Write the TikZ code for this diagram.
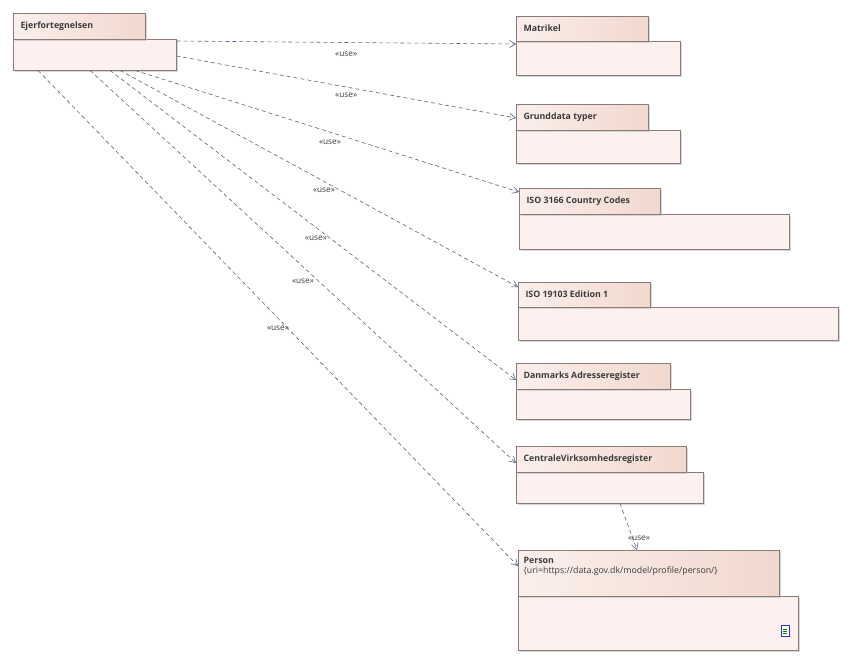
\documentclass[tikz,border=0pt]{standalone}
\usepackage{fontspec}
\setmainfont{Open Sans}
\usetikzlibrary{arrows.meta,calc,shadows}
\definecolor{bd}{HTML}{8A7A78}
\definecolor{tabL}{HTML}{FBEFEB}
\definecolor{tabR}{HTML}{F1D8CF}
\definecolor{bodyc}{HTML}{FCF1EE}
\definecolor{ln}{HTML}{5A6480}
\definecolor{txt}{HTML}{3C3C3C}
\tikzset{
  x=1pt,y=-1pt,
  shad/.style={drop shadow={shadow xshift=2pt,shadow yshift=-2pt,fill=black!25,opacity=.6}},
  tab/.style={draw=bd,shad,left color=tabL,right color=tabR,anchor=north west,inner sep=0pt,
    text=txt,align=left},
  body/.style={draw=bd,shad,fill=bodyc,anchor=north west,inner sep=0pt},
  lbl/.style={anchor=west,text=txt,font=\fontsize{8.8}{10.5}\selectfont\bfseries,align=left},
  use/.style={draw=ln,dash pattern=on 4pt off 3pt,-{Straight Barb[length=6pt,width=7pt]},line width=.6pt},
  ul/.style={text=txt,font=\fontsize{8.3}{9}\selectfont,inner sep=1pt}
}
% name, x1,y1, tab x2,y2, body x2,y2, label
\newcommand\mypkg[8]{%
  \node[body,minimum width={#6-#2},minimum height={#7-#5}] (#1b) at (#2,#5) {};
  \node[tab,minimum width={#4-#2},minimum height={#5-#3}] (#1) at (#2,#3) {};
  \node[lbl] (#1t) at (#2+4,{(#3+#5)/2}) {#8};
}
\begin{document}
\begin{tikzpicture}
\useasboundingbox (0,0) rectangle (850,662);
\fill[white] (0,0) rectangle (850,662);
\mypkg{ej}{13}{13}{145}{39}{176}{70}{Ejerfortegnelsen}
\mypkg{ma}{516}{16}{648}{41}{680}{75}{Matrikel}
\mypkg{gr}{516}{104}{648}{130}{680}{163}{Grunddata typer}
\mypkg{is}{519}{188}{660}{214}{789}{249}{ISO 3166 Country Codes}
\mypkg{io}{518}{282}{650}{307}{838}{340}{ISO 19103 Edition 1}
\mypkg{da}{516}{363}{670}{389}{690}{419}{Danmarks Adresseregister}
\mypkg{ce}{516}{446}{686}{472}{703}{503}{CentraleVirksomhedsregister}
\node[body,minimum width=280,minimum height=54] (peb) at (518,596) {};
\node[tab,minimum width=261,minimum height=46] (pe) at (518,550) {};
\node[lbl,anchor=north west] (pet) at (520,554) {Person\\[-1pt]\mdseries{\{uri=https://data.gov.dk/model/profile/person/\}}};
% document icon
\node[draw=blue!60!gray,fill=white,minimum width=8pt,minimum height=11pt,inner sep=0pt,line width=.6pt] (ic) at (785,631) {};
\foreach \yy in {-1.5,0.5,2.5}\draw[green!50!black,line width=.4pt] ($(ic)+(-2,\yy)$) -- ++(4,0);
% connectors
\draw[use] ($(ejb.north east)+(0,2)$) -- node[ul,pos=.5,yshift=-12pt]{«use»} ($(mab.north west)+(0,3)$);
\draw[use] ($(ejb.north east)+(0,17)$) -- node[ul,pos=.5,yshift=-8pt]{«use»} ($(grb.north west)+(0,-12)$);
\draw[use] ($(ejb.south west)+(122,0)$) -- node[ul,pos=.5,yshift=-11pt,xshift=3pt]{«use»} ($(isb.north west)+(0,-22)$);
\draw[use] ($(ejb.south west)+(107,0)$) -- node[ul,pos=.5,yshift=-12pt,xshift=5pt]{«use»} ($(iob.north west)+(0,-20)$);
\draw[use] ($(ejb.south west)+(97,0)$) -- node[ul,pos=.49,yshift=-16pt,xshift=7pt]{«use»} ($(dab.north west)+(0,-9)$);
\draw[use] ($(ejb.south west)+(77,0)$) -- node[ul,pos=.5,yshift=-15pt]{«use»} ($(ceb.north west)+(0,-9)$);
\draw[use] ($(ejb.south west)+(25,0)$) -- node[ul,pos=.5,yshift=-10pt]{«use»} ($(pe.north west)+(0,16)$);
\draw[use] ($(ceb.south west)+(104,0)$) -- node[ul,pos=.75,right=-6pt]{«use»} ($(pe.north west)+(119,0)$);
\end{tikzpicture}
\end{document}
